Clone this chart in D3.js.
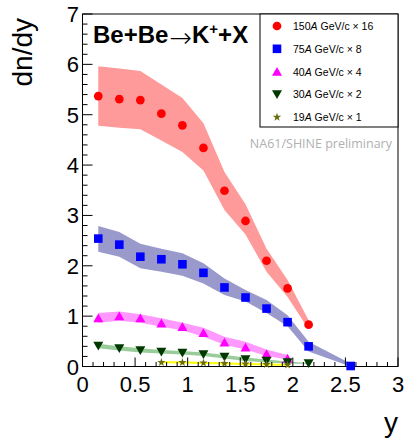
<!DOCTYPE html>
<html>
<head>
<meta charset="utf-8">
<script src="https://cdn.jsdelivr.net/npm/d3@7/dist/d3.min.js"></script>
<style>
  html, body { margin: 0; padding: 0; background: #fff; }
  svg { display: block; font-family: "Liberation Sans", Arial, Helvetica, sans-serif; }
</style>
</head>
<body>
<svg id="chart" width="406" height="442"></svg>
<script>
// Rapidity bin centres
const yBins = [0.15, 0.35, 0.55, 0.75, 0.95, 1.15, 1.35, 1.55, 1.75, 1.95, 2.15, 2.55];

// 150A GeV/c (scaled x16)
const k150 = [5.37, 5.31, 5.29, 5.02, 4.79, 4.34, 3.49, 2.89, 2.10, 1.55, 0.83];
const k150Hi = [5.96, 5.92, 5.87, 5.60, 5.33, 4.83, 3.86, 3.22, 2.34, 1.72, 0.92];
const k150Lo = [4.78, 4.74, 4.71, 4.49, 4.26, 3.89, 3.11, 2.62, 1.88, 1.38, 0.74];

// 75A GeV/c (scaled x8)
const k75 = [2.54, 2.42, 2.18, 2.13, 2.03, 1.86, 1.57, 1.37, 1.15, 0.88, 0.40, 0.01];
const k75Hi = [2.79, 2.67, 2.44, 2.34, 2.25, 2.05, 1.75, 1.52, 1.32, 1.02, 0.49, 0.06];
const k75Lo = [2.28, 2.18, 1.95, 1.88, 1.80, 1.65, 1.42, 1.29, 1.06, 0.80, 0.30, 0.00];

// 40A GeV/c (scaled x4)
const k40 = [0.96, 1.00, 0.96, 0.86, 0.79, 0.67, 0.48, 0.38, 0.25, 0.16];
const k40Hi = [1.06, 1.09, 1.04, 0.96, 0.87, 0.77, 0.59, 0.49, 0.34, 0.23];
const k40Lo = [0.87, 0.91, 0.87, 0.79, 0.72, 0.59, 0.43, 0.34, 0.21, 0.14];

// 30A GeV/c (scaled x2)
const k30 = [0.41, 0.36, 0.32, 0.29, 0.27, 0.24, 0.19, 0.14, 0.11, 0.08, 0.06];
const k30Hi = [0.45, 0.40, 0.36, 0.33, 0.31, 0.28, 0.23, 0.18, 0.14, 0.10, 0.07];
const k30Lo = [0.36, 0.32, 0.28, 0.26, 0.24, 0.21, 0.16, 0.11, 0.08, 0.06, 0.05];

// 19A GeV/c (x1), measured from y = 0.75 onward
const k19Bins = [0.75, 0.95, 1.15, 1.35, 1.55, 1.75, 1.95];
const k19 = [0.08, 0.08, 0.07, 0.06, 0.05, 0.04, 0.03];
const k19Hi = [0.095, 0.09, 0.08, 0.07, 0.06, 0.05, 0.04];
const k19Lo = [0.075, 0.07, 0.06, 0.05, 0.04, 0.03, 0.025];

const xTicks = [0, 0.5, 1, 1.5, 2, 2.5, 3];
const yTicks = [0, 1, 2, 3, 4, 5, 6, 7];

const legendLabels = [
  ["150", " GeV/c \u00d7 16"],
  ["75", " GeV/c \u00d7 8"],
  ["40", " GeV/c \u00d7 4"],
  ["30", " GeV/c \u00d7 2"],
  ["19", " GeV/c \u00d7 1"]
];

const svg = d3.select("#chart");
const frameL = 82.5, frameR = 398, frameT = 14, frameB = 366.5;

const x = d3.scaleLinear().domain([0, 3]).range([frameL, frameR]);
const y = d3.scaleLinear().domain([0, 7]).range([frameB, frameT]);

const series = [
  { bins: yBins, val: k150, hi: k150Hi, lo: k150Lo, color: "#ff0000", band: "#ff9a9a", marker: "circle" },
  { bins: yBins, val: k75, hi: k75Hi, lo: k75Lo, color: "#0000ff", band: "#9999cc", marker: "square" },
  { bins: yBins, val: k40, hi: k40Hi, lo: k40Lo, color: "#ff00ff", band: "#ff99ff", marker: "triUp" },
  { bins: yBins, val: k30, hi: k30Hi, lo: k30Lo, color: "#003800", band: "#99cc99", marker: "triDown" },
  { bins: k19Bins, val: k19, hi: k19Hi, lo: k19Lo, color: "#6b6b10", band: "#ffff00", marker: "star" }
];

function markerPath(kind) {
  switch (kind) {
    case "circle": return d3.symbol(d3.symbolCircle, 60)();
    case "square": return "M-4.3,-4.3H4.3V4.3H-4.3Z";
    case "triUp": return "M-5,4.2L5,4.2L0,-4.6Z";
    case "triDown": return "M-5,-4.2L5,-4.2L0,4.6Z";
    case "star": return d3.symbol(d3.symbolStar, 22)();
  }
}

// Uncertainty bands
const area = d3.area()
  .x(d => x(d.b))
  .y0(d => y(d.lo))
  .y1(d => y(d.hi));

series.forEach(s => {
  const pts = s.val.map((v, i) => ({ b: s.bins[i], lo: s.lo[i], hi: s.hi[i] }));
  svg.append("path")
    .attr("d", area(pts))
    .attr("fill", s.band)
    .attr("stroke", s.marker === "star" ? s.band : "none")
    .attr("stroke-width", s.marker === "star" ? 1 : 0);
});

// Frame
svg.append("rect")
  .attr("x", frameL).attr("y", frameT)
  .attr("width", frameR - frameL).attr("height", frameB - frameT)
  .attr("fill", "none").attr("stroke", "#000").attr("stroke-width", 1);

// Y axis ticks (inside the frame)
const yMinor = d3.range(0, 7.0001, 0.2);
svg.append("g").selectAll("line").data(yMinor).join("line")
  .attr("x1", frameL).attr("x2", (d, i) => frameL + (i % 5 === 0 ? 10 : 5))
  .attr("y1", d => y(d)).attr("y2", d => y(d))
  .attr("stroke", "#000").attr("stroke-width", 1);

svg.append("g").selectAll("text").data(yTicks).join("text")
  .attr("x", 79).attr("y", d => y(d) + 8)
  .attr("text-anchor", "end")
  .attr("font-size", 22)
  .text(d => d3.format("d")(d));

// X axis ticks (inside the frame)
const xMinor = d3.range(0, 3.0001, 0.1);
svg.append("g").selectAll("line").data(xMinor).join("line")
  .attr("x1", d => x(d)).attr("x2", d => x(d))
  .attr("y1", frameB).attr("y2", (d, i) => frameB - (i % 5 === 0 ? 9 : 4.5))
  .attr("stroke", "#000").attr("stroke-width", 1);

svg.append("g").selectAll("text").data(xTicks).join("text")
  .attr("x", d => x(d)).attr("y", 392)
  .attr("text-anchor", "middle")
  .attr("font-size", 22)
  .text(d => String(d));

// Axis titles
svg.append("text")
  .attr("transform", "translate(32,18) rotate(-90)")
  .attr("text-anchor", "end")
  .attr("font-size", 28)
  .text("dn/dy");

svg.append("text")
  .attr("x", 398).attr("y", 432)
  .attr("text-anchor", "end")
  .attr("font-size", 28)
  .text("y");

// Data points
series.forEach(s => {
  svg.append("g").selectAll("path").data(s.val).join("path")
    .attr("transform", (d, i) => `translate(${x(s.bins[i])},${y(d)})`)
    .attr("d", markerPath(s.marker))
    .attr("fill", s.color);
});

// Reaction label
const title = svg.append("text")
  .attr("x", 93).attr("y", 43)
  .attr("font-size", 24)
  .attr("font-weight", "bold");
title.append("tspan").text("Be+Be");
title.append("tspan")
  .attr("font-weight", 200)
  .attr("font-family", "'DejaVu Sans', sans-serif")
  .attr("font-size", 27)
  .attr("dx", 1).attr("dy", 3.5)
  .text("\u2192");
title.append("tspan").attr("dy", -3.5).text("K");
title.append("tspan").attr("font-size", 15).attr("dy", -9).text("+");
title.append("tspan").attr("dy", 9).text("+X");

// Legend
svg.append("rect")
  .attr("x", 260).attr("y", frameT)
  .attr("width", frameR - 260).attr("height", 127 - frameT)
  .attr("fill", "#fff").attr("stroke", "#000").attr("stroke-width", 1);

series.forEach((s, i) => {
  const cy = 26 + i * 22.8;
  svg.append("path")
    .attr("transform", `translate(277,${cy})`)
    .attr("d", markerPath(s.marker))
    .attr("fill", s.color);
  const t = svg.append("text")
    .attr("x", 293).attr("y", cy + 4)
    .attr("font-size", 10.5);
  t.append("tspan").text(legendLabels[i][0]);
  t.append("tspan").attr("font-style", "italic").text("A");
  t.append("tspan").text(legendLabels[i][1]);
});

// Preliminary tag
svg.append("text")
  .attr("x", 392).attr("y", 148)
  .attr("text-anchor", "end")
  .attr("font-size", 12.5)
  .attr("fill", "#b0b0b0")
  .attr("font-family", "'Open Sans', 'Liberation Sans', sans-serif")
  .text("NA61/SHINE preliminary");
</script>
</body>
</html>
